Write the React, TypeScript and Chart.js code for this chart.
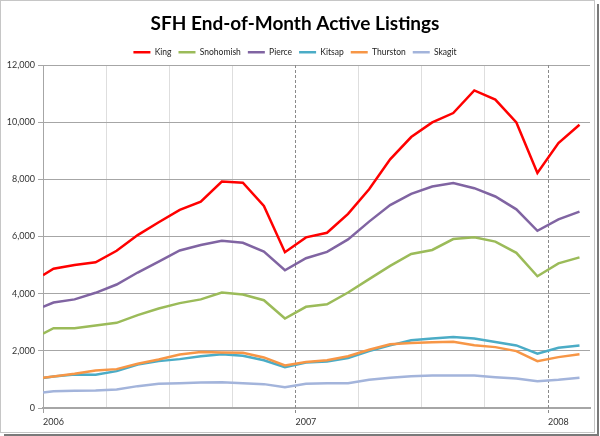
import React, { useEffect, useRef } from "react";
import { Chart, registerables } from "chart.js";

Chart.register(...registerables);

// Months since Jan 2006 at which each end-of-month value is plotted
const MONTH_OFFSETS = [0, 0.5, 1.5, 2.5, 3.5, 4.5, 5.5, 6.5, 7.5, 8.5, 9.5, 10.5, 11.5, 12.5, 13.5, 14.5, 15.5, 16.5, 17.5, 18.5, 19.5, 20.5, 21.5, 22.5, 23.5, 24.5, 25.5];

const KING = [4650, 4870, 5000, 5100, 5500, 6050, 6500, 6930, 7220, 7920, 7880, 7070, 5450, 5970, 6130, 6790, 7650, 8700, 9480, 9990, 10320, 11110, 10790, 9990, 8220, 9270, 9910];
const SNOHOMISH = [2600, 2790, 2790, 2890, 2980, 3250, 3480, 3670, 3800, 4040, 3970, 3770, 3130, 3540, 3630, 4040, 4510, 4970, 5390, 5530, 5910, 5970, 5820, 5430, 4610, 5060, 5270];
const PIERCE = [3540, 3690, 3800, 4030, 4320, 4740, 5120, 5510, 5700, 5850, 5780, 5470, 4820, 5240, 5460, 5900, 6520, 7100, 7490, 7750, 7870, 7690, 7400, 6950, 6200, 6600, 6870];
const KITSAP = [1050, 1100, 1175, 1165, 1290, 1520, 1640, 1710, 1810, 1880, 1830, 1670, 1425, 1590, 1630, 1750, 1990, 2190, 2370, 2430, 2480, 2430, 2310, 2190, 1900, 2110, 2190];
const THURSTON = [1060, 1105, 1200, 1315, 1360, 1550, 1700, 1870, 1960, 1940, 1930, 1770, 1490, 1610, 1670, 1810, 2040, 2230, 2270, 2300, 2320, 2195, 2130, 1990, 1640, 1780, 1880];
const SKAGIT = [544, 590, 600, 614, 650, 765, 849, 870, 895, 905, 870, 835, 730, 849, 870, 870, 990, 1060, 1115, 1140, 1140, 1135, 1080, 1035, 940, 990, 1060];

const SERIES_NAMES = ["King", "Snohomish", "Pierce", "Kitsap", "Thurston", "Skagit"];
const SERIES_VALUES = [KING, SNOHOMISH, PIERCE, KITSAP, THURSTON, SKAGIT];
const SERIES_COLORS = ["#FF0000", "#9BBB59", "#8064A2", "#4BACC6", "#F79646", "#A3B4DB"];

const YEAR_TICKS = [0, 12, 24];
const YEAR_LABELS = ["2006", "2007", "2008"];
const X_MIN = 0;
const X_MAX = 26;
const Y_MIN = 0;
const Y_MAX = 12000;
const Y_STEP = 2000;

const TITLE = "SFH End-of-Month Active Listings";
const FONT = "Lato, 'Open Sans', sans-serif";

const yearLinesPlugin = {
  id: "yearLines",
  beforeDatasetsDraw(chart: any) {
    const { ctx, chartArea, scales } = chart;
    ctx.save();
    ctx.strokeStyle = "#8a8a8a";
    ctx.lineWidth = 1;
    ctx.setLineDash([3, 2]);
    YEAR_TICKS.forEach((v) => {
      if (v === X_MIN) return;
      const x = Math.round(scales.x.getPixelForValue(v)) + 0.5;
      ctx.beginPath();
      ctx.moveTo(x, chartArea.top);
      ctx.lineTo(x, chartArea.bottom + 5);
      ctx.stroke();
    });
    ctx.restore();
  },
};

export default function App() {
  const ref = useRef<HTMLCanvasElement>(null);

  useEffect(() => {
    if (!ref.current) return;
    const datasets = SERIES_NAMES.map((name, i) => ({
      label: name,
      data: SERIES_VALUES[i].map((v, j) => ({ x: MONTH_OFFSETS[j], y: v })),
      borderColor: SERIES_COLORS[i],
      backgroundColor: SERIES_COLORS[i],
      borderWidth: 2.5,
      pointRadius: 0,
      pointStyle: "line",
      tension: 0,
      fill: false,
      order: SERIES_NAMES.length - 1 - i,
    }));

    const chart = new Chart(ref.current, {
      type: "line",
      data: { datasets },
      plugins: [yearLinesPlugin],
      options: {
        animation: false,
        responsive: false,
        maintainAspectRatio: false,
        layout: { padding: { left: 0, right: 10, top: 0, bottom: 0 } },
        plugins: {
          tooltip: { enabled: false },
          title: {
            display: true,
            text: TITLE,
            color: "#000",
            font: { family: FONT, size: 19, weight: "bold" },
            padding: { top: 12, bottom: 6.2 },
          },
          legend: {
            display: true,
            reverse: true,
            maxHeight: 24,
            labels: {
              usePointStyle: true,
              pointStyleWidth: 17,
              padding: 7,
              color: "#222",
              font: { family: FONT, size: 8.5 },
            },
          },
        },
        scales: {
          x: {
            type: "linear",
            min: X_MIN,
            max: X_MAX,
            afterFit(scale: any) {
              scale.height = 28;
            },
            ticks: {
              stepSize: 3,
              includeBounds: false,
              autoSkip: false,
              maxRotation: 0,
              align: "start",
              padding: 4,
              color: "#333",
              font: { family: FONT, size: 9 },
              callback: (v: any) => {
                const k = YEAR_TICKS.indexOf(Number(v));
                return k >= 0 ? YEAR_LABELS[k] : "";
              },
            },
            grid: {
              color: (c: any) =>
                c.tick && YEAR_TICKS.includes(c.tick.value) ? "rgba(0,0,0,0)" : "#dedede",
              lineWidth: 1,
              tickLength: 5,
              tickColor: (c: any) =>
                c.tick && c.tick.value === X_MIN ? "#a0a0a0" : "rgba(0,0,0,0)",
            },
            border: { color: "#a6a6a6", width: 2 },
          },
          y: {
            min: Y_MIN,
            max: Y_MAX,
            afterFit(scale: any) {
              scale.width = 43;
            },
            ticks: {
              stepSize: Y_STEP,
              padding: 3,
              color: "#333",
              font: { family: FONT, size: 9 },
              callback: (v: any) => Number(v).toLocaleString("en-US"),
            },
            grid: {
              color: "#a6a6a6",
              lineWidth: 1,
              tickLength: 5,
              tickColor: "#a6a6a6",
            },
            border: { color: "#a6a6a6", width: 1 },
          },
        },
      },
    });
    return () => chart.destroy();
  }, []);

  return (
    <div style={{ position: "fixed", left: 0, top: 0, width: 600, height: 436, background: "#fff" }}>
      <div
        style={{
          position: "absolute",
          left: 4,
          top: 4,
          width: 595,
          height: 432,
          boxSizing: "border-box",
          borderRight: "2px solid #7a7a7a",
          borderBottom: "2px solid #7a7a7a",
        }}
      />
      <div
        style={{
          position: "absolute",
          left: 0,
          top: 0,
          width: 595,
          height: 433,
          boxSizing: "border-box",
          border: "1px solid #c6c6c6",
        }}
      />
      <canvas ref={ref} width={600} height={436} style={{ position: "absolute", left: 0, top: 0, width: 600, height: 436 }} />
    </div>
  );
}
